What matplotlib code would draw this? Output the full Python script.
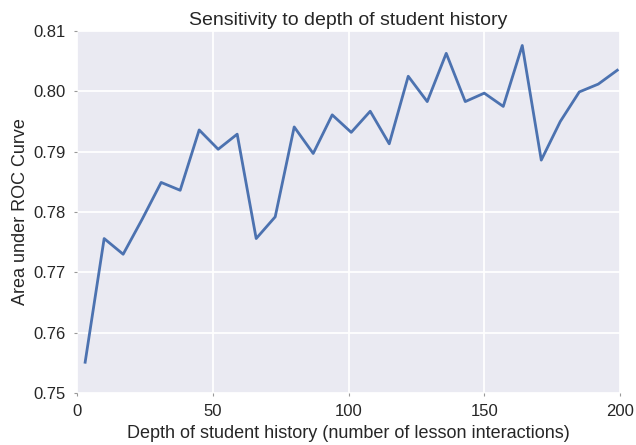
import matplotlib
matplotlib.use("Agg")
import matplotlib.pyplot as plt
import numpy as np

depth = [3, 10, 17, 24, 31, 38, 45, 52, 59, 66, 73, 80, 87, 94, 101, 108, 115,
         122, 129, 136, 143, 150, 157, 164, 171, 178, 185, 192, 199]
auc = [0.7551, 0.7756, 0.7730, 0.7788, 0.7849, 0.7836, 0.7936, 0.7904, 0.7929,
       0.7756, 0.7792, 0.7941, 0.7897, 0.7961, 0.7932, 0.7967, 0.7913, 0.8025,
       0.7983, 0.8063, 0.7983, 0.7997, 0.7975, 0.8076, 0.7886, 0.7950, 0.7999,
       0.8012, 0.8035]
xticks = [0, 50, 100, 150, 200]
yticks = [0.75, 0.76, 0.77, 0.78, 0.79, 0.80, 0.81]
ytick_labels = ["0.75", "0.76", "0.77", "0.78", "0.79", "0.80", "0.81"]

plt.rcParams['font.family'] = ['Liberation Sans', 'DejaVu Sans']

fig = plt.figure(figsize=(6.36, 4.45), dpi=100)
ax = fig.add_axes([77/636, 1 - 393/445, (620-77)/636, (393-31)/445])
ax.set_facecolor('#EAEAF2')
for s in ax.spines.values():
    s.set_visible(False)
ax.grid(True, color='white', linewidth=1.3)
ax.set_axisbelow(True)

ax.plot(depth, auc, color='#4C72B0', linewidth=2.0)

ax.set_xlim(0, 200)
ax.set_ylim(0.75, 0.81)
ax.set_xticks(xticks)
ax.set_yticks(yticks)
ax.set_yticklabels(ytick_labels)
ax.tick_params(axis='both', labelsize=12, length=2, width=0.8, color='#999999',
               labelcolor='#262626', pad=6)
ax.set_xlabel('Depth of student history (number of lesson interactions)',
              fontsize=13, color='#262626', labelpad=4)
ax.set_ylabel('Area under ROC Curve', fontsize=13, color='#262626', labelpad=3)
ax.set_title('Sensitivity to depth of student history', fontsize=14,
             color='#262626', pad=4)

fig.savefig('out.png', dpi=100)
